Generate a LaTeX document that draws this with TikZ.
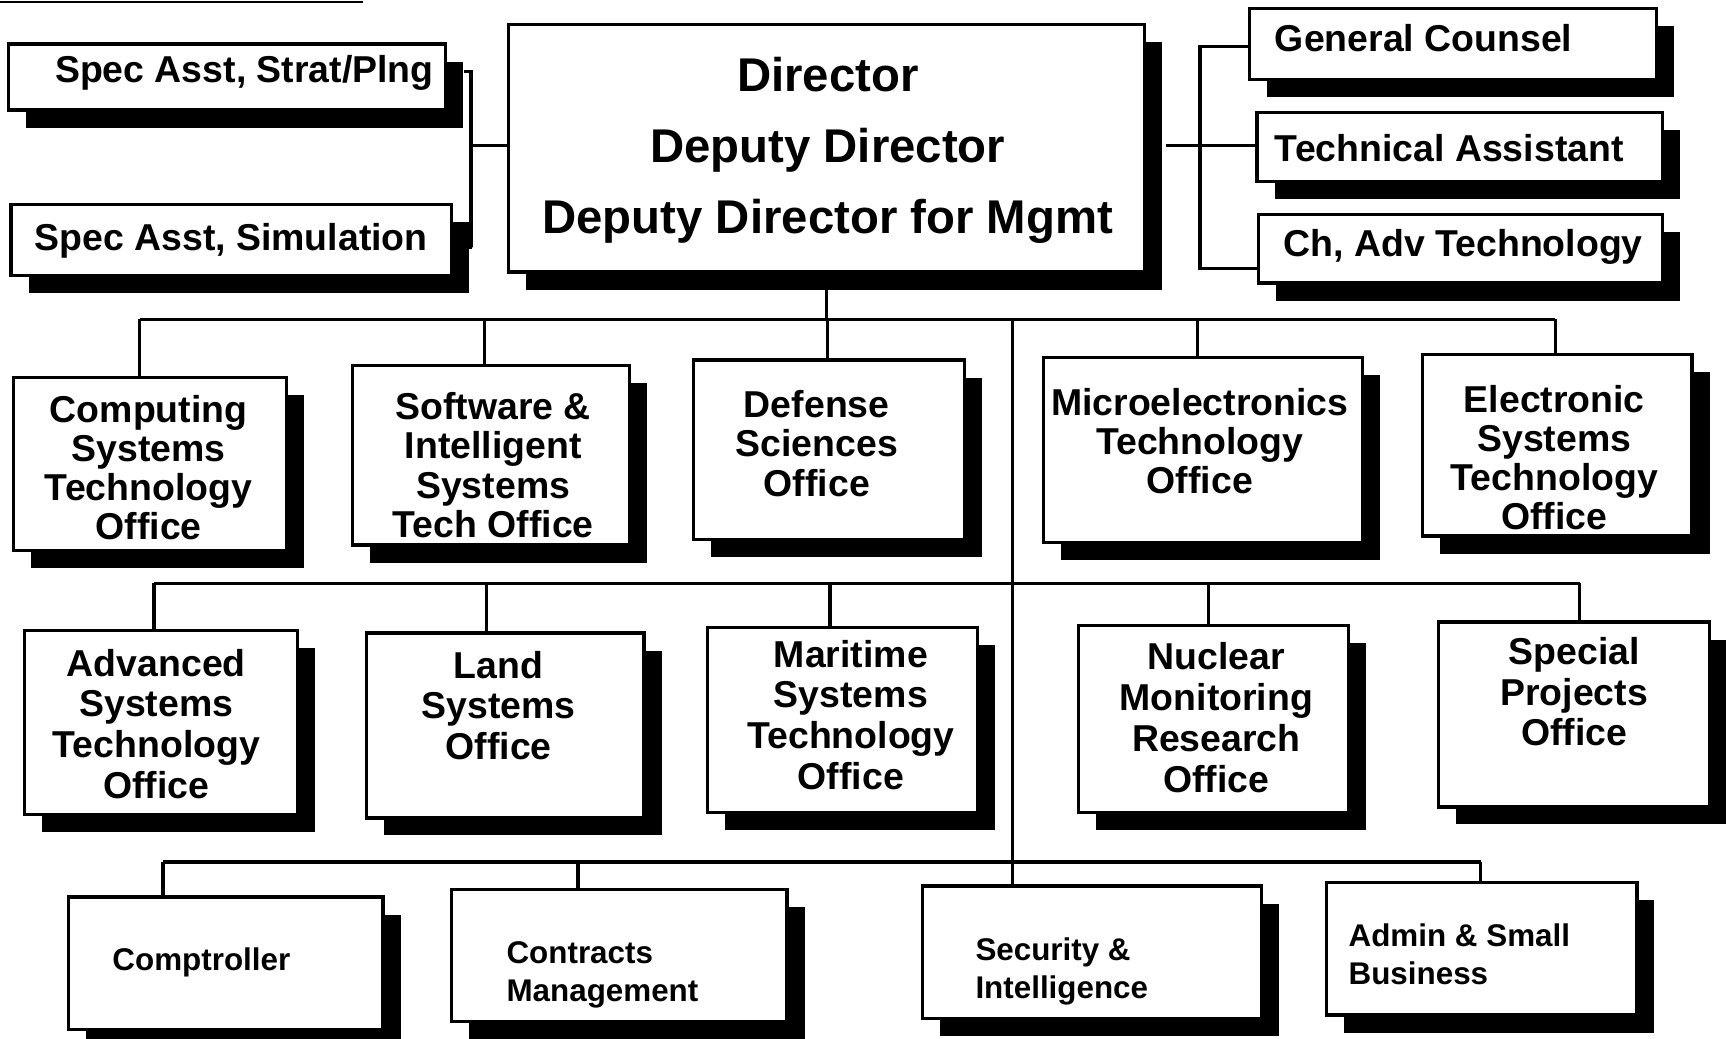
\documentclass[tikz,border=0pt]{standalone}
\usepackage{fontspec}
\setmainfont{Liberation Sans}
\usetikzlibrary{shadows}
\begin{document}
\begin{tikzpicture}[x=1pt,y=-1pt,
  box/.style={draw, rectangle, line width=3pt, fill=white, inner sep=0pt,
    drop shadow={shadow xshift=16pt, shadow yshift=-16pt, fill=black, opacity=1}},
  conn/.style={line width=3pt},
  tbig/.style={font=\bfseries\fontsize{43}{64.5}\selectfont, align=center, inner sep=0pt},
  tmid/.style={font=\bfseries\fontsize{34}{35.5}\selectfont, align=center, inner sep=0pt},
  trow/.style={font=\bfseries\fontsize{34}{37}\selectfont, align=center, inner sep=0pt},
  tside/.style={font=\bfseries\fontsize{34}{36}\selectfont, align=left, anchor=west, inner sep=0pt},
  tsmall/.style={font=\bfseries\fontsize{28.5}{35}\selectfont, align=left, anchor=west, inner sep=0pt}]
\useasboundingbox (0,0) rectangle (1568,943);

% scan rule at top left
\draw[line width=2pt] (0,1.5) -- (330,1.5);

% ---- top level boxes
\node[box, minimum width=397pt, minimum height=60pt] (sa1) at (206.5,70) {};
\node[tmid] (sa1t) at (222,66) {Spec Asst, Strat/Plng};
\node[box, minimum width=400pt, minimum height=64pt] (sa2) at (210,218) {};
\node[tmid] (sa2t) at (210,219) {Spec Asst, Simulation};

\node[box, minimum width=578pt, minimum height=225pt] (dir) at (751,134.5) {};
\node[tbig] (dirt) at (752,137) {Director\\Deputy Director\\Deputy Director for Mgmt};

\node[box, minimum width=370pt, minimum height=64pt] (gc) at (1320,40) {};
\node[tside] (gct) at (1158,35) {General Counsel};
\node[box, minimum width=368pt, minimum height=63pt] (ta) at (1326,133.5) {};
\node[tside] (tat) at (1158,135) {Technical Assistant};
\node[box, minimum width=367pt, minimum height=62pt] (ca) at (1326.5,226) {};
\node[tside] (cat) at (1166,224) {Ch, Adv Technology};

% ---- row 1
\node[box, minimum width=248pt, minimum height=157pt] (cst) at (136,421.5) {};
\node[tmid] (cstt) at (135,425) {Computing\\Systems\\Technology\\Office};
\node[box, minimum width=252pt, minimum height=163pt] (sis) at (446,413.5) {};
\node[tmid] (sist) at (448,422.5) {Software \&\\Intelligent\\Systems\\Tech Office};
\node[box, minimum width=246pt, minimum height=163pt] (dso) at (753,408.5) {};
\node[tmid] (dsot) at (742,403) {Defense\\Sciences\\Office};
\node[box, minimum width=290pt, minimum height=168pt] (mto) at (1093,409) {};
\node[tmid] (mtot) at (1090,401) {Microelectronics\\Technology\\Office};
\node[box, minimum width=245pt, minimum height=165pt] (esto) at (1414.5,404.5) {};
\node[tmid] (estot) at (1412,415.5) {Electronic\\Systems\\Technology\\Office};

% ---- row 2
\node[box, minimum width=248pt, minimum height=167pt] (asto) at (146,656.5) {};
\node[trow] (astot) at (142,657.5) {Advanced\\Systems\\Technology\\Office};
\node[box, minimum width=252pt, minimum height=168pt] (lso) at (459,659) {};
\node[trow] (lsot) at (453,641) {Land\\Systems\\Office};
\node[box, minimum width=245pt, minimum height=168pt] (msto) at (765.5,654) {};
\node[trow] (mstot) at (773,649.5) {Maritime\\Systems\\Technology\\Office};
\node[box, minimum width=245pt, minimum height=170pt] (nmro) at (1102.5,653) {};
\node[trow] (nmrot) at (1105,652) {Nuclear\\Monitoring\\Research\\Office};
\node[box, minimum width=246pt, minimum height=168pt] (spo) at (1430,649) {};
\node[trow] (spot) at (1430,628.5) {Special\\Projects\\Office};

% ---- row 3
\node[box, minimum width=286pt, minimum height=120pt] (comp) at (205,875) {};
\node[tsmall] (compt) at (102,874) {Comptroller};
\node[box, minimum width=305pt, minimum height=120pt] (cm) at (562.5,868) {};
\node[tsmall] (cmt) at (460,885.5) {Contracts\\Management};
\node[box, minimum width=308pt, minimum height=120pt] (si) at (992,865) {};
\node[tsmall] (sit) at (886,882.5) {Security \&\\Intelligence};
\node[box, minimum width=282pt, minimum height=120pt] (asb) at (1346,862) {};
\node[tsmall] (asbt) at (1225,867) {Admin \& Small\\Business};

% ---- junction coordinates
\coordinate (lbT) at (428,65);
\coordinate (lbB) at (428,225);
\coordinate (lbM) at (428,132);
\coordinate (rbT) at (1090,42);
\coordinate (rbB) at (1090,244);
\coordinate (rbM) at (1090,132);
\coordinate (b1L) at (127,290);
\coordinate (b1R) at (1413,290);
\coordinate (b2L) at (140,530);
\coordinate (b2R) at (1435,530);
\coordinate (b3L) at (148,783);
\coordinate (b3R) at (1345,783);
\coordinate (trunk) at (920,290);

% ---- connectors
\begin{scope}[conn]
\draw ([xshift=15pt]sa1.east |- lbT) -- (lbT) -- (lbB) -- ([xshift=17pt]sa2.east |- lbB);
\draw (lbM) -- (dir.west |- lbM);
\draw (gc.west |- rbT) -- (rbT) -- (rbB) -- (ca.west |- rbB);
\draw ([xshift=18pt]dir.east |- rbM) -- (ta.west |- rbM);
\draw (dir.south) -- (dir.south |- b1L);
\draw (b1L) -- (b1R);
\draw (b1L) -- (b1L |- cst.north);
\draw (440,290) -- (440,290 |- sis.north);
\draw (752,290) -- (752,290 |- dso.north);
\draw (1088,290) -- (1088,290 |- mto.north);
\draw (b1R) -- (b1R |- esto.north);
\draw (trunk) -- (trunk |- si.north);
\draw (b2L) -- (b2R);
\draw (b2L) -- (b2L |- asto.north);
\draw (442,530) -- (442,530 |- lso.north);
\draw (754,530) -- (754,530 |- msto.north);
\draw (1098,530) -- (1098,530 |- nmro.north);
\draw (b2R) -- (b2R |- spo.north);
\draw (b3L) -- (b3R);
\draw (b3L) -- (b3L |- comp.north);
\draw (525,783) -- (525,783 |- cm.north);
\draw (b3R) -- (b3R |- asb.north);
\end{scope}
\end{tikzpicture}
\end{document}
